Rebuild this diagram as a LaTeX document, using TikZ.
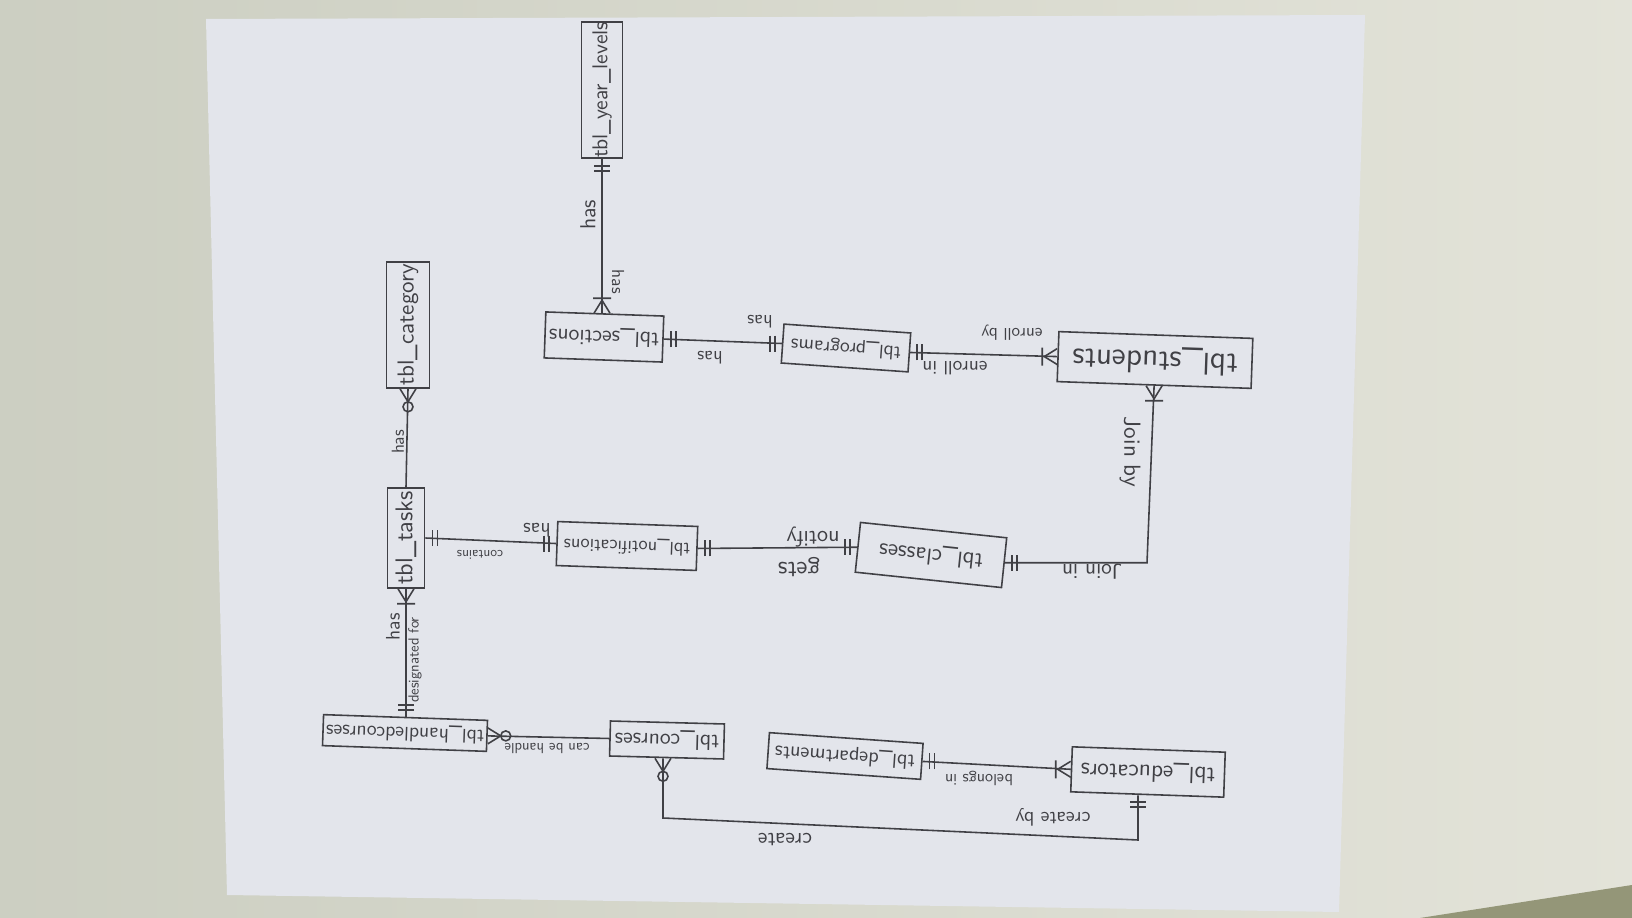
\documentclass[tikz,border=0pt]{standalone}
\usetikzlibrary{calc}
\definecolor{InkClr}{rgb}{0.25,0.25,0.27}
\definecolor{PaperClr}{rgb}{0.89,0.90,0.92}
\definecolor{DeskClr}{rgb}{0.80,0.81,0.76}
\definecolor{DeskLightClr}{rgb}{0.89,0.89,0.85}
\definecolor{DeskDarkClr}{rgb}{0.58,0.59,0.47}

\newcommand\flipped[2]{\rotatebox{180}{\resizebox{#1}{!}{#2}}}
\newcommand\upward[2]{\rotatebox{90}{\resizebox{#1}{!}{#2}}}
\newcommand\downward[2]{\rotatebox{-90}{\resizebox{#1}{!}{#2}}}

\tikzset{
  entity/.style={draw=InkClr, line width=0.45pt, inner sep=0pt, text=InkClr, font=\sffamily},
  relname/.style={inner sep=0pt, text=InkClr, font=\sffamily},
  link/.style={draw=InkClr, line width=0.45pt},
  pics/one/.style={code={\draw[link] (-7,-8)--(-7,8) (-12,-8)--(-12,8);}},
  pics/onemany/.style={code={\draw[link] (0,-8)--(-13,0)--(0,8) (-15,-9)--(-15,9);}},
  pics/zeromany/.style={code={\draw[link] (0,-8)--(-13,0)--(0,8); \draw[link] (-18,0) circle (5);}},
}

\begin{document}
\begin{tikzpicture}[x=0.1mm,y=-0.1mm]
\useasboundingbox (0,0) rectangle (1632,918);
\shade[left color=DeskClr, right color=DeskLightClr] (0,0) rectangle (1632,918);
\fill[DeskDarkClr] (1420,918) -- (1632,885) -- (1632,918) -- cycle;
\fill[PaperClr] (206,19) -- (1365,15) -- (1339,912) -- (227,895) -- cycle;

% tables
\node[entity, minimum width=4.1mm, minimum height=13.5mm] (years) at (602,90) {\upward{13.6mm}{tbl\_year\_levels}};
\node[entity, minimum width=4.3mm, minimum height=12.6mm] (category) at (408,325) {\upward{12.2mm}{tbl\_category}};
\node[entity, minimum width=3.7mm, minimum height=10mm] (tasks) at (406,538) {\upward{9.4mm}{tbl\_tasks}};
\node[entity, minimum width=11.8mm, minimum height=4.6mm, rotate=-2] (sections) at (604,337) {\flipped{11mm}{tbl\_sections}};
\node[entity, minimum width=12.7mm, minimum height=3.9mm, rotate=-4] (programs) at (846,348) {\flipped{11mm}{tbl\_programs}};
\node[entity, minimum width=19.4mm, minimum height=5mm, rotate=-2] (students) at (1155,360) {\flipped{16.5mm}{tbl\_students}};
\node[entity, minimum width=14mm, minimum height=4.4mm, rotate=-2] (notifs) at (627,546) {\flipped{12.6mm}{tbl\_notifications}};
\node[entity, minimum width=14.7mm, minimum height=5mm, rotate=-6] (classes) at (931,555) {\flipped{10.4mm}{tbl\_classes}};
\node[entity, minimum width=16.4mm, minimum height=3.1mm, rotate=-2] (handled) at (405,733) {\flipped{15.8mm}{tbl\_handledcourses}};
\node[entity, minimum width=11.4mm, minimum height=3.5mm, rotate=-1.5] (courses) at (667,740) {\flipped{10.4mm}{tbl\_courses}};
\node[entity, minimum width=15.4mm, minimum height=3.6mm, rotate=-4] (departments) at (845,756) {\flipped{14mm}{tbl\_departments}};
\node[entity, minimum width=15.3mm, minimum height=4.5mm, rotate=-2] (educators) at (1148,772) {\flipped{13.4mm}{tbl\_educators}};

% relations
\coordinate (crA) at (1138,840);
\coordinate (crB) at (663,818);
\coordinate (joinC) at (1147,562);
\draw[link] (educators.south -| crA) -- (crA) -- (crB) -- (courses.south -| crB);
\draw[link] (departments.east) -- (educators.west);
\draw[link] (courses.west) -- (handled.east);
\draw[link] (handled.north -| tasks.south) -- (tasks.south);
\draw[link] (tasks.east) -- (notifs.west);
\draw[link] (notifs.east) -- (classes.west);
\draw[link] (classes.east) -- (classes.east -| joinC) -- (students.south);
\draw[link] (programs.east) -- (students.west);
\draw[link] (sections.east) -- (programs.west);
\draw[link] (sections.north -| years.south) -- (years.south);
\draw[link] (tasks.north) -- (category.south);

\pic[rotate=90] at (educators.south -| crA) {one};
\pic[rotate=90] at (courses.south -| crB) {zeromany};
\pic[rotate=180] at (departments.east) {one};
\pic at (educators.west) {onemany};
\pic[rotate=180] at (handled.east) {zeromany};
\pic[rotate=-90] at (handled.north -| tasks.south) {one};
\pic[rotate=90] at (tasks.south) {onemany};
\pic[rotate=180] at (tasks.east) {one};
\pic at (notifs.west) {one};
\pic[rotate=180] at (notifs.east) {one};
\pic at (classes.west) {one};
\pic[rotate=180] at (classes.east) {one};
\pic[rotate=90] at (students.south) {onemany};
\pic at (students.west) {onemany};
\pic[rotate=180] at (programs.east) {one};
\pic at (programs.west) {one};
\pic[rotate=180] at (sections.east) {one};
\pic[rotate=-90] at (sections.north -| years.south) {onemany};
\pic[rotate=90] at (years.south) {one};
\pic[rotate=90] at (category.south) {zeromany};

% relation names
\node[relname] (lCreateBy) at (1053,817) {\flipped{7.5mm}{create by}};
\node[relname] (lCreate) at (785,840) {\flipped{5.4mm}{create}};
\node[relname] (lBelongs) at (979,778) {\flipped{6.8mm}{belongs in}};
\node[relname] (lCanHandle) at (547,748) {\flipped{8.5mm}{can be handle}};
\node[relname] (lHasTask) at (393,627) {\upward{2.7mm}{has}};
\node[relname] (lDesignated) at (415,660) {\upward{8.6mm}{designated for}};
\node[relname] (lContains) at (480,555) {\flipped{4.6mm}{contains}};
\node[relname] (lHasNotif) at (537,530) {\flipped{2.7mm}{has}};
\node[relname] (lGets) at (799,567) {\flipped{4.2mm}{gets}};
\node[relname] (lNotify) at (813,537) {\flipped{5.3mm}{notify}};
\node[relname] (lJoinIn) at (1092,572) {\flipped{6mm}{Join in}};
\node[relname] (lJoinBy) at (1130,452) {\downward{7mm}{Join by}};
\node[relname] (lEnrollIn) at (955,368) {\flipped{6.5mm}{enroll in}};
\node[relname] (lEnrollBy) at (1012,333) {\flipped{6.1mm}{enroll by}};
\node[relname] (lHasProg) at (710,358) {\flipped{2.5mm}{has}};
\node[relname] (lHasSect) at (760,322) {\flipped{2.5mm}{has}};
\node[relname] (lHasYear) at (588,215) {\upward{3mm}{has}};
\node[relname] (lHasSect2) at (618,282) {\downward{2.4mm}{has}};
\node[relname] (lHasCat) at (398,442) {\upward{2.4mm}{has}};
\end{tikzpicture}
\end{document}
